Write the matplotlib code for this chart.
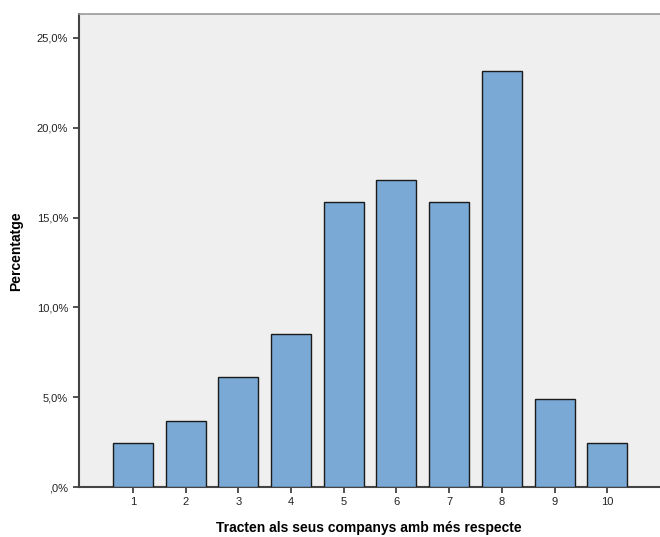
import matplotlib
matplotlib.use("Agg")
import matplotlib.pyplot as plt
from matplotlib.ticker import FuncFormatter

# respostes (valor de l'escala) i percentatges (n = 82)
valors = [1, 2, 3, 4, 5, 6, 7, 8, 9, 10]
percentatges = [2.44, 3.66, 6.10, 8.54, 15.85, 17.07, 15.85, 23.17, 4.88, 2.44]
yticks = [0, 5, 10, 15, 20, 25]


def fmt_pct(v, pos):
    s = ("%.1f" % v).replace(".", ",")
    if s.startswith("0"):
        s = s[1:]
    return s + "%"


def main():
    plt.rcParams['font.family'] = ['Liberation Sans', 'DejaVu Sans']
    fig = plt.figure(figsize=(6.6, 5.37), dpi=100)
    ax = fig.add_axes([0.119, 0.093, 0.881, 0.88])
    ax.set_facecolor('#efefef')

    ax.bar(valors, percentatges, width=0.76, color='#7ba9d6',
           edgecolor='#1a1a1a', linewidth=1.0, zorder=3)

    ax.set_xlim(-0.03, 11.0)
    ax.set_ylim(0, 26.3)
    ax.set_xticks(valors)
    ax.set_yticks(yticks)
    ax.yaxis.set_major_formatter(FuncFormatter(fmt_pct))
    ax.tick_params(labelsize=8, length=4, width=1.2, color='#333333',
                   labelcolor='#222222')

    for s in ['left', 'bottom']:
        ax.spines[s].set_color('#444444')
        ax.spines[s].set_linewidth(1.5)
    ax.spines['top'].set_color('#999999')
    ax.spines['top'].set_linewidth(1.2)
    ax.spines['right'].set_visible(False)

    ax.set_ylabel("Percentatge", fontsize=10, fontweight='bold', labelpad=10)
    ax.set_xlabel("Tracten als seus companys amb més respecte", fontsize=10,
                  fontweight='bold', labelpad=10)

    fig.savefig("out.png", dpi=100)


if __name__ == "__main__":
    main()
